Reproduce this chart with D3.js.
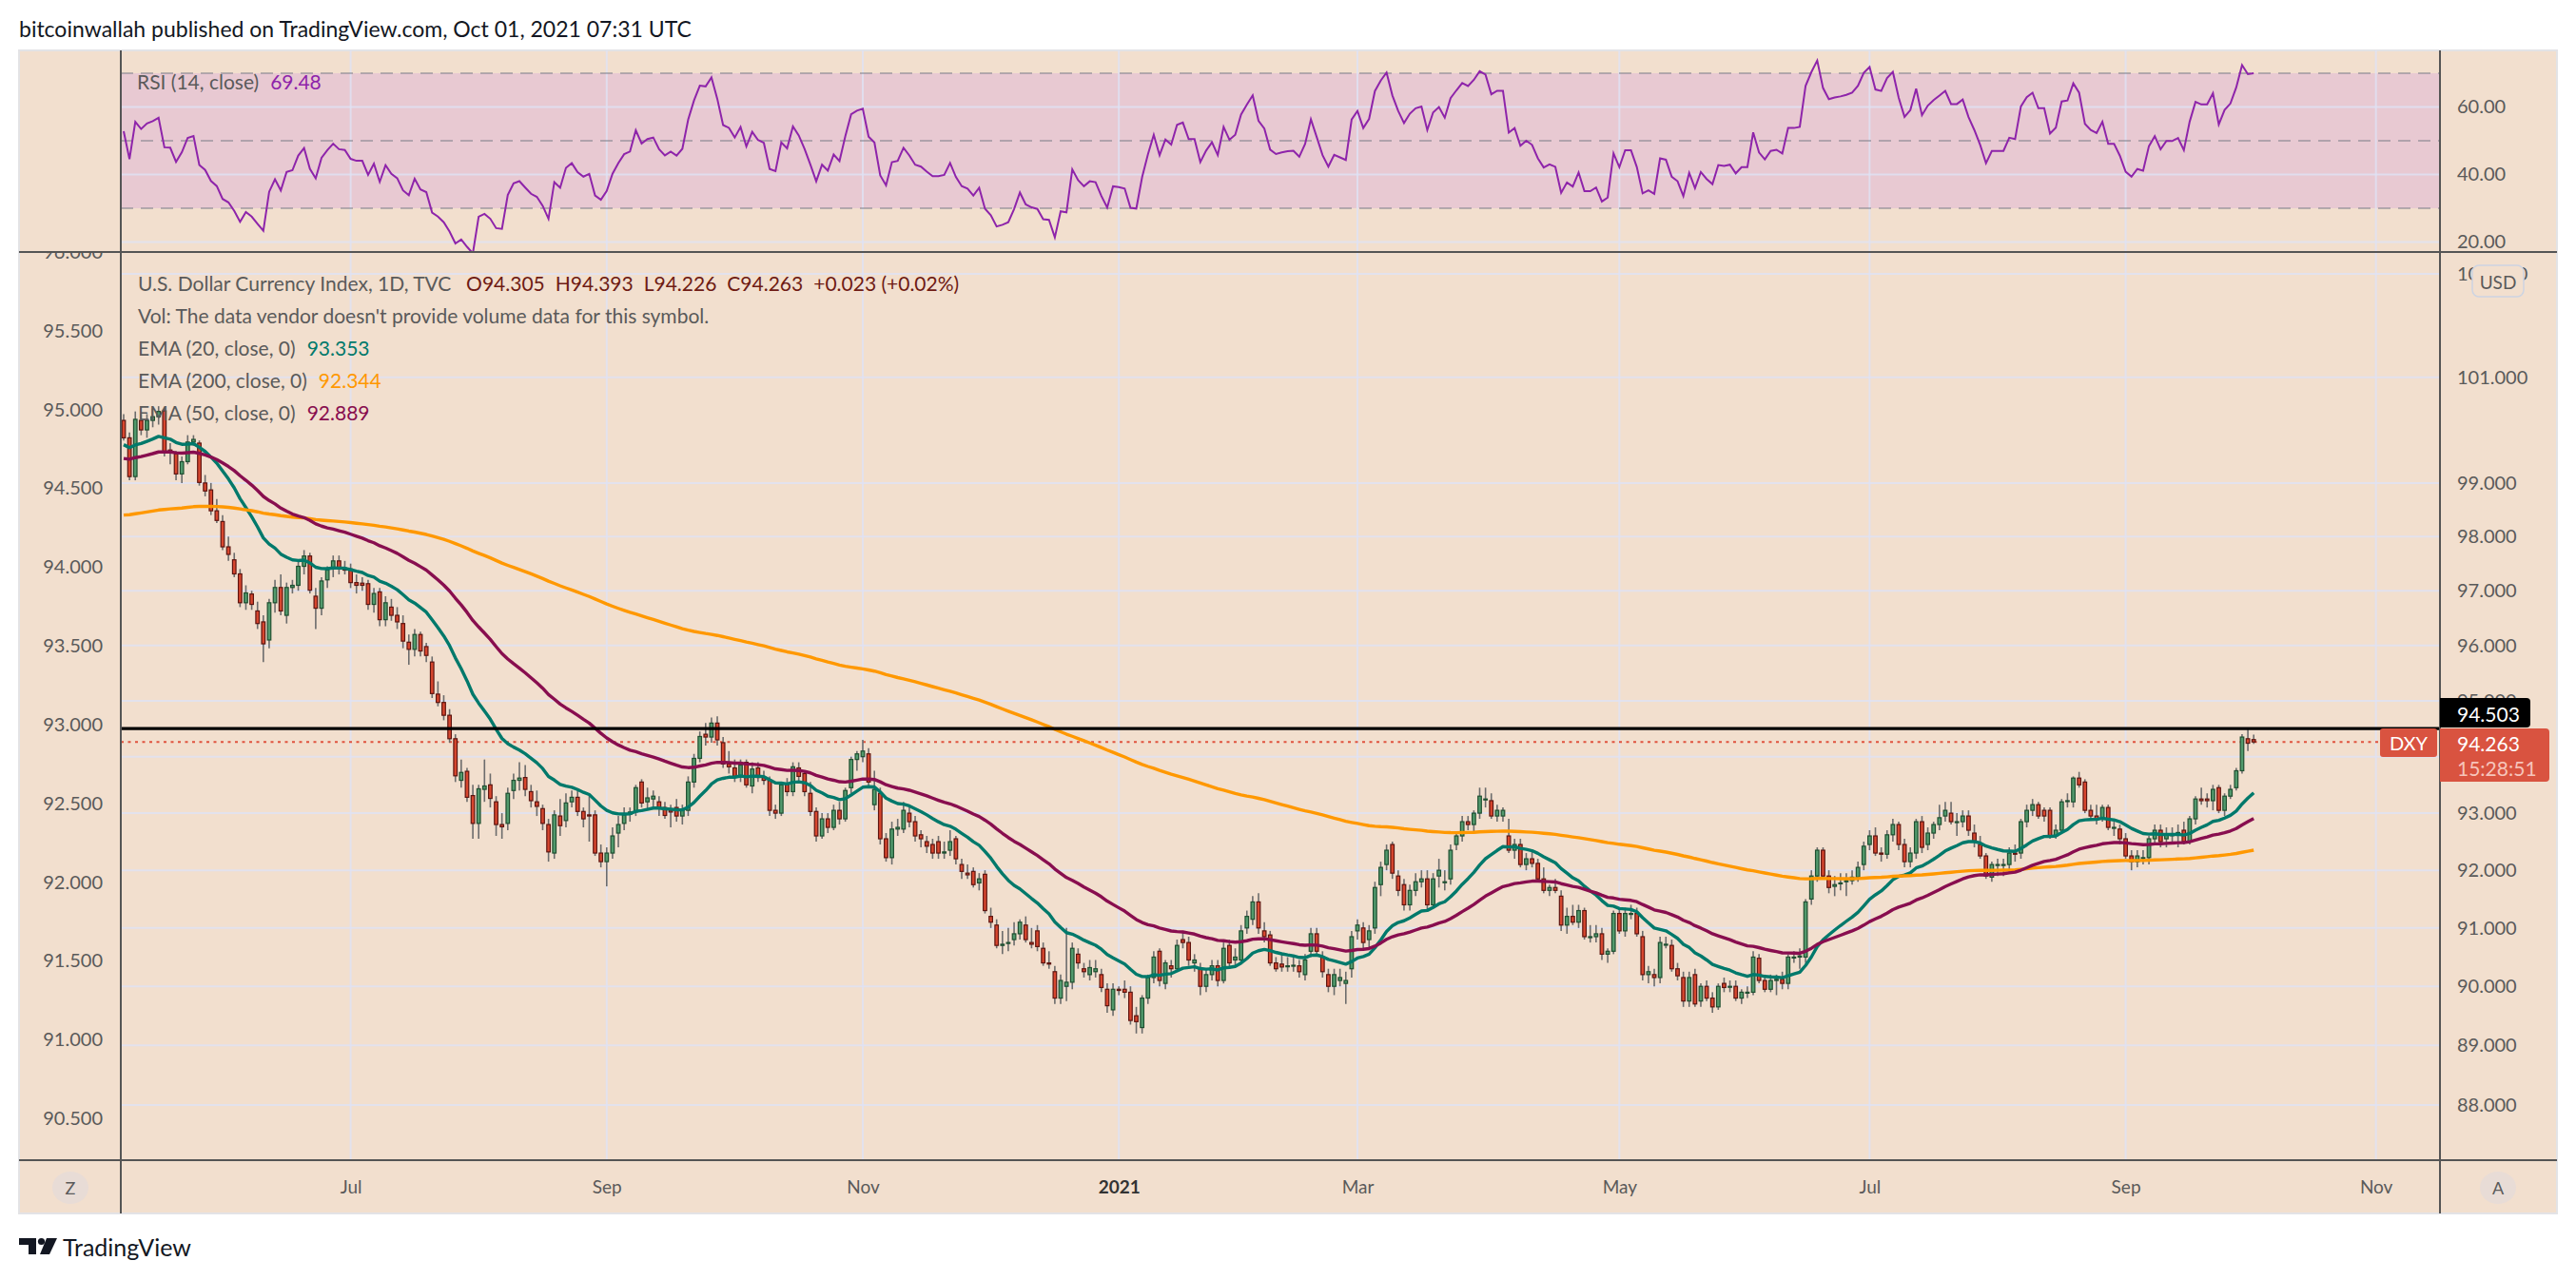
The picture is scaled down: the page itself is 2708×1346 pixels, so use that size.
<!DOCTYPE html>
<html>
<head>
<meta charset="utf-8">
<script src="https://cdn.jsdelivr.net/npm/d3@7"></script>
<style>
body{margin:0;background:#fff;}
svg{display:block;font-family:Lato,"Open Sans",sans-serif;}
</style>
</head>
<body>
<div id="canvas"></div>
<script>
// daily DXY bars, one per weekday from 2020-05-07 to 2021-10-01
var startDate = '2020-05-07';

var opens = [
100.18,99.85,99.12,100.18,100.00,100.18,100.25,100.36,99.62,99.55,
99.17,99.40,99.77,99.75,99.00,98.87,98.48,98.28,97.81,97.57,
97.31,96.78,96.94,96.63,96.43,96.10,96.78,97.06,96.55,97.06,
97.10,97.45,97.64,96.90,96.68,97.20,97.40,97.55,97.42,97.40,
97.15,97.14,97.13,96.75,96.98,96.47,96.70,96.55,96.40,96.06,
95.93,96.20,95.98,95.70,95.12,94.97,94.74,94.32,93.58,93.74,
93.31,92.82,93.42,93.50,93.20,92.80,92.82,93.40,93.58,93.63,
93.38,93.20,93.08,92.80,92.30,92.95,92.87,93.20,93.28,93.03,
92.97,92.97,92.30,92.15,92.30,92.65,92.82,92.98,93.02,93.55,
93.20,93.25,93.20,93.10,93.05,93.10,92.95,93.05,93.55,93.97,
94.40,94.35,94.60,94.25,93.87,93.80,93.65,93.90,93.48,93.80,
93.63,93.58,93.05,93.00,93.50,93.38,93.80,93.70,93.35,93.03,
92.60,92.90,92.75,93.05,92.90,93.45,93.95,94.00,94.05,93.15,
93.35,92.55,92.22,92.72,92.72,93.00,92.85,92.62,92.50,92.45,
92.50,92.30,92.35,92.55,92.10,91.95,91.98,91.78,91.93,91.20,
91.05,90.70,90.75,90.80,90.90,91.05,90.75,90.95,90.65,90.40,
90.25,89.80,90.00,90.07,90.55,90.30,90.20,90.25,90.20,89.95,
89.60,89.95,89.95,89.90,89.50,89.30,89.80,90.15,90.60,90.05,
90.35,90.30,90.80,90.75,90.40,90.30,90.00,90.20,90.35,90.10,
90.70,90.45,90.45,91.00,91.15,91.45,90.95,90.88,90.40,90.38,
90.35,90.36,90.35,90.20,90.60,90.90,90.50,90.20,90.00,90.10,
90.05,90.30,90.95,91.00,90.80,91.00,91.75,92.10,92.45,91.90,
91.75,91.40,91.65,91.80,91.85,91.40,91.90,91.80,91.85,92.45,
92.60,92.85,92.80,93.00,93.25,93.22,92.95,92.95,92.60,92.35,
92.45,92.10,92.20,92.12,91.85,91.65,91.70,91.55,91.05,91.20,
91.10,91.30,90.85,90.85,90.90,90.55,90.60,91.25,90.95,91.25,
91.25,90.85,90.20,90.20,90.15,90.72,90.70,90.30,90.15,89.75,
90.20,89.75,90.00,89.80,89.65,90.05,90.00,90.00,89.80,89.90,
89.90,90.48,90.10,89.95,90.10,90.12,90.05,90.50,90.50,90.50,
91.50,91.90,92.35,91.90,91.72,91.78,91.80,91.82,91.88,92.10,
92.45,92.60,92.30,92.28,92.62,92.80,92.45,92.15,92.30,92.85,
92.45,92.65,92.80,92.95,93.00,92.85,92.85,92.95,92.65,92.45,
92.25,91.88,92.10,92.10,92.10,92.30,92.30,92.85,93.05,93.15,
93.05,93.05,92.60,92.70,93.22,93.20,93.62,93.55,93.05,92.95,
92.90,93.10,92.75,92.72,92.55,92.25,92.15,92.22,92.22,92.55,
92.70,92.55,92.62,92.62,92.70,92.50,92.90,93.25,93.25,93.22,
93.45,93.05,93.30,93.45,93.75,94.32,94.305
];

var highs = [
100.30,99.95,100.35,100.30,100.30,100.40,100.45,100.42,99.75,99.60,
99.50,99.90,99.90,99.80,99.15,99.00,98.70,98.40,98.00,97.70,
97.40,97.10,97.00,96.80,96.55,96.85,97.20,97.30,97.15,97.20,
97.55,97.75,97.70,97.05,97.25,97.45,97.65,97.65,97.55,97.50,
97.30,97.25,97.20,97.05,97.05,96.90,96.85,96.70,96.55,96.20,
96.30,96.25,96.05,95.80,95.35,95.10,94.85,94.40,93.95,93.80,
93.50,93.50,93.95,93.70,93.30,93.00,93.45,93.70,93.90,93.85,
93.50,93.40,93.15,92.90,93.05,93.25,93.35,93.40,93.40,93.10,
93.30,93.05,92.45,92.40,92.75,92.95,93.10,93.10,93.50,93.60,
93.45,93.40,93.30,93.20,93.15,93.25,93.15,93.65,94.05,94.45,
94.60,94.70,94.72,94.35,94.10,93.95,93.95,93.95,93.90,93.90,
93.75,93.65,93.15,93.55,93.62,93.90,93.90,93.75,93.55,93.10,
93.00,93.00,93.15,93.20,93.45,94.00,94.10,94.30,94.15,93.75,
93.45,92.65,92.85,92.90,93.20,93.10,92.95,92.70,92.60,92.55,
92.60,92.50,92.70,92.60,92.20,92.10,92.05,91.95,92.00,91.35,
91.15,90.95,91.00,91.10,91.15,91.20,91.00,91.05,90.75,90.60,
90.35,90.20,91.00,90.75,90.65,90.40,90.45,90.45,90.30,90.05,
90.05,90.00,90.10,90.00,89.65,89.85,90.20,90.60,90.65,90.45,
90.45,90.80,90.95,90.85,90.55,90.40,90.30,90.45,90.45,90.75,
90.80,90.65,91.05,91.30,91.55,91.60,91.10,90.95,90.50,90.55,
90.50,90.50,90.45,90.55,91.00,91.00,90.60,90.30,90.30,90.30,
90.25,90.95,91.15,91.10,91.05,91.80,92.15,92.45,92.50,92.00,
91.85,91.75,91.95,92.00,92.00,91.95,92.20,92.00,92.45,92.65,
92.95,92.95,93.05,93.45,93.45,93.35,93.15,93.10,92.90,92.55,
92.55,92.30,92.35,92.20,92.05,91.75,91.85,91.65,91.35,91.40,
91.40,91.35,91.05,91.05,91.00,90.65,91.30,91.35,91.35,91.40,
91.35,90.95,90.35,90.30,90.85,90.85,90.80,90.40,90.25,90.25,
90.30,90.05,90.10,89.90,90.05,90.15,90.10,90.10,89.95,90.00,
90.60,90.55,90.20,90.20,90.20,90.25,90.55,90.60,90.65,91.50,
92.00,92.40,92.40,92.00,91.90,91.95,91.95,92.00,92.15,92.50,
92.70,92.75,92.40,92.70,92.90,92.85,92.55,92.40,92.90,92.95,
92.75,92.85,93.15,93.20,93.20,93.00,93.05,93.05,92.80,92.60,
92.30,92.15,92.20,92.20,92.40,92.45,92.90,93.15,93.25,93.20,
93.10,93.10,92.80,93.25,93.35,93.65,93.73,93.60,93.15,93.15,
93.15,93.15,92.85,92.80,92.65,92.35,92.35,92.35,92.60,92.80,
92.80,92.75,92.75,92.80,92.85,92.95,93.30,93.45,93.35,93.50,
93.50,93.35,93.50,93.80,94.40,94.50,94.393
];

var lows = [
99.80,99.05,99.05,99.90,99.85,100.05,100.10,99.50,99.35,99.05,
99.00,99.35,99.70,98.95,98.75,98.40,98.25,97.75,97.55,97.25,
96.70,96.65,96.65,96.30,95.70,95.95,96.60,96.55,96.40,96.95,
97.00,97.30,96.95,96.30,96.55,97.05,97.25,97.30,97.30,97.05,
96.95,97.00,96.65,96.60,96.35,96.35,96.45,96.30,95.95,95.65,
95.80,95.80,95.70,95.05,94.90,94.65,94.25,93.55,93.45,93.20,
92.55,92.55,93.20,93.10,92.60,92.55,92.70,93.25,93.40,93.30,
93.10,92.95,92.70,92.15,92.20,92.60,92.75,93.10,92.95,92.75,
92.50,92.25,92.05,91.72,92.20,92.40,92.70,92.85,92.95,93.10,
93.05,93.10,92.95,92.90,92.75,92.85,92.80,92.95,93.45,93.90,
94.20,94.25,94.20,93.80,93.70,93.55,93.55,93.45,93.35,93.55,
93.50,92.95,92.90,92.95,93.30,93.30,93.55,93.30,92.95,92.50,
92.55,92.65,92.70,92.80,92.85,93.35,93.75,93.90,93.45,93.05,
92.45,92.15,92.10,92.60,92.65,92.75,92.50,92.40,92.30,92.20,
92.20,92.20,92.25,92.10,91.85,91.85,91.70,91.65,91.25,91.00,
90.65,90.55,90.60,90.70,90.80,90.75,90.65,90.60,90.35,90.30,
89.70,89.70,89.75,89.95,90.30,90.15,90.10,90.15,89.90,89.55,
89.50,89.85,89.80,89.35,89.20,89.20,89.70,90.05,90.00,89.95,
90.15,90.25,90.65,90.35,90.25,89.85,89.90,90.10,90.00,90.05,
90.30,90.35,90.40,90.90,91.05,90.90,90.75,90.35,90.25,90.25,
90.25,90.25,90.15,90.10,90.50,90.55,90.15,89.90,89.85,90.00,
89.70,90.15,90.80,90.65,90.65,90.90,91.55,92.00,91.85,91.55,
91.30,91.30,91.55,91.70,91.30,91.35,91.70,91.65,91.75,92.35,
92.50,92.70,92.65,92.90,93.10,92.90,92.85,92.85,92.30,92.20,
92.05,92.00,92.05,91.80,91.60,91.55,91.60,90.95,90.90,91.05,
91.00,90.80,90.75,90.75,90.45,90.40,90.55,90.90,90.85,91.15,
90.85,90.10,90.05,90.00,90.05,90.65,90.25,90.10,89.65,89.65,
89.65,89.65,89.75,89.55,89.60,89.90,89.90,89.75,89.70,89.80,
89.85,90.05,89.90,89.90,89.85,89.95,89.95,90.40,90.30,90.40,
91.40,91.80,91.85,91.60,91.55,91.65,91.55,91.75,91.80,92.00,
92.35,92.25,92.15,92.20,92.50,92.35,92.05,92.05,92.20,92.30,
92.35,92.55,92.70,92.85,92.80,92.60,92.75,92.60,92.40,92.20,
91.85,91.80,91.90,91.90,91.95,92.15,92.20,92.75,92.95,92.90,
92.85,92.55,92.55,92.65,93.10,93.10,93.45,93.00,92.90,92.80,
92.85,92.70,92.60,92.45,92.20,92.00,92.05,92.10,92.10,92.45,
92.40,92.40,92.50,92.40,92.45,92.45,92.80,93.15,93.10,93.05,
93.00,92.95,93.25,93.40,93.70,94.10,94.226
];

var closes = [
99.85,99.12,100.20,100.00,100.18,100.25,100.35,99.59,99.58,99.17,
99.40,99.77,99.82,99.01,98.85,98.48,98.30,97.81,97.67,97.31,
96.78,96.96,96.75,96.40,96.03,96.78,97.06,96.63,97.06,97.10,
97.45,97.64,97.01,96.68,97.18,97.38,97.55,97.40,97.38,97.15,
97.10,97.10,96.75,96.95,96.47,96.78,96.55,96.43,96.08,95.93,
96.20,95.90,95.82,95.13,94.97,94.74,94.32,93.66,93.72,93.28,
92.82,93.43,93.48,93.26,92.80,92.76,93.35,93.58,93.62,93.42,
93.22,93.12,92.82,92.32,92.97,92.78,93.18,93.28,93.03,92.90,
92.95,92.30,92.15,92.30,92.60,92.80,92.97,93.02,93.45,93.18,
93.27,93.30,93.08,92.96,93.02,92.95,93.05,93.55,93.97,94.36,
94.35,94.60,94.30,93.87,93.82,93.65,93.85,93.50,93.78,93.63,
93.58,93.05,93.00,93.50,93.38,93.82,93.65,93.38,93.03,92.60,
92.90,92.75,93.05,92.90,93.40,93.95,94.05,94.10,93.55,93.42,
92.55,92.22,92.72,92.75,93.05,92.85,92.60,92.55,92.42,92.30,
92.30,92.32,92.50,92.20,91.98,91.92,91.75,91.85,91.30,91.10,
90.70,90.72,90.75,90.90,91.10,90.80,90.72,90.68,90.40,90.38,
89.80,90.10,90.07,90.65,90.40,90.25,90.32,90.30,89.98,89.67,
89.95,89.93,89.90,89.42,89.40,89.80,90.15,90.50,90.10,90.40,
90.30,90.70,90.75,90.45,90.45,90.00,90.20,90.35,90.10,90.65,
90.40,90.50,90.95,91.20,91.45,91.00,90.85,90.40,90.30,90.33,
90.35,90.36,90.25,90.45,90.90,90.60,90.25,90.00,90.20,90.15,
90.10,90.85,91.05,90.75,90.95,91.70,92.05,92.35,91.95,91.65,
91.40,91.65,91.80,91.85,91.40,91.85,92.00,91.80,92.35,92.60,
92.85,92.80,93.00,93.30,93.25,92.95,93.05,93.05,92.35,92.45,
92.10,92.20,92.12,91.85,91.65,91.70,91.65,91.05,91.20,91.10,
91.30,90.85,90.85,90.90,90.55,90.60,91.25,90.95,91.25,91.25,
90.90,90.20,90.25,90.15,90.75,90.72,90.30,90.18,89.75,90.15,
89.70,90.00,89.80,89.65,90.00,89.98,90.00,89.80,89.90,89.90,
90.50,90.10,89.95,90.10,90.12,90.05,90.50,90.50,90.52,91.45,
91.90,92.35,91.90,91.70,91.75,91.78,91.82,91.88,92.05,92.42,
92.60,92.30,92.28,92.62,92.80,92.45,92.15,92.30,92.85,92.40,
92.65,92.80,92.92,93.05,92.85,92.85,92.95,92.70,92.50,92.25,
91.90,92.10,92.10,92.10,92.30,92.28,92.85,93.05,93.15,92.95,
92.95,92.60,92.70,93.20,93.22,93.62,93.50,93.05,92.95,92.90,
93.10,92.75,92.75,92.55,92.25,92.15,92.25,92.22,92.55,92.70,
92.50,92.62,92.62,92.66,92.50,92.90,93.25,93.22,93.22,93.42,
93.05,93.30,93.42,93.75,94.35,94.24,94.263
];

// indicator settings and their values as printed in the legend
var emaNames = ['EMA (20, close, 0)', 'EMA (200, close, 0)', 'EMA (50, close, 0)'];
var emaPeriods = [20, 200, 50];
var emaSeeds = [99.72, 98.40, 99.46];          // level of each EMA at the first bar
var emaLegendValues = ['93.353', '92.344', '92.889'];
var emaColors = ['#00796b', '#ff9800', '#880e4f'];
var rsiSeedGain = 0.16, rsiSeedLoss = 0.143;
var rsiLegendValue = '69.48';
var levelLine = 94.503;                        // drawn horizontal line

// axes
var monthTicks = ['2020-07','2020-09','2020-11','2021-01','2021-03','2021-05','2021-07','2021-09','2021-11'];
var monthLabels = ['Jul','Sep','Nov','2021','Mar','May','Jul','Sep','Nov'];
var rightTicks = [103,101,99,98,97,96,95,94,93,92,91,90,89,88];
var hiddenRightLabels = [94];                  // covered by the last price label
var leftTicks = [96,95.5,95,94.5,94,93.5,93,92.5,92,91.5,91,90.5];
var rsiTicks = [60,40,20];
var rsiLevels = [70,50,30];

var W = 2708, H = 1346;
var fl = 20, ft = 53, fr = 2688, fb = 1276;
var pl = 127, pr = 2565, rsiBottom = 265, mainBottom = 1220;
var bg = '#f2dfce', axisGray = '#555', txtGray = '#5a5a5a';

// weekday calendar
var parse = d3.timeParse('%Y-%m-%d'), fmtYM = d3.timeFormat('%Y-%m');
var days = [];
for (var d = parse(startDate); days.length < 420; d = d3.timeDay.offset(d, 1)) {
  if (d.getDay() !== 0 && d.getDay() !== 6) days.push(d);
}
var monthIdx = monthTicks.map(function(m){
  return days.findIndex(function(dd){ return fmtYM(dd) === m; });
});

var bars = closes.map(function(c, i){
  return {i:i, o:opens[i], h:highs[i], l:lows[i], c:c};
});
var last = bars[bars.length - 1], prev = bars[bars.length - 2];

// scales
var x = d3.scaleLinear().domain([0, closes.length - 1]).range([130, 130 + 6.118 * (closes.length - 1)]);
var y = d3.scaleLog().domain([88, 101]).range([1162, 396.8]);
var yLeft = d3.scaleLinear().domain([90.5, 96]).range([1176.3, 264.9]);
var yRsi = d3.scaleLinear().domain([30, 70]).range([219, 77]);

// indicators
function ema(period, seed){
  var a = 2 / (period + 1), v = seed;
  return closes.map(function(c, i){ if (i > 0) v = v + a * (c - v); return v; });
}
var rsi = [], ag = rsiSeedGain, al = rsiSeedLoss;
closes.forEach(function(c, i){
  if (i > 0) {
    var ch = c - closes[i - 1];
    ag = (ag * 13 + Math.max(ch, 0)) / 14;
    al = (al * 13 + Math.max(-ch, 0)) / 14;
  }
  rsi.push(100 - 100 / (1 + ag / al));
});

var svg = d3.select('#canvas').append('svg').attr('width', W).attr('height', H);
var defs = svg.append('defs');
defs.append('clipPath').attr('id', 'mainClip').append('rect')
  .attr('x', pl).attr('y', rsiBottom).attr('width', pr - pl).attr('height', mainBottom - rsiBottom);
defs.append('clipPath').attr('id', 'rsiClip').append('rect')
  .attr('x', pl).attr('y', ft).attr('width', pr - pl).attr('height', rsiBottom - ft);
defs.append('clipPath').attr('id', 'leftClip').append('rect')
  .attr('x', fl).attr('y', rsiBottom + 1).attr('width', pl - fl).attr('height', mainBottom - rsiBottom);

// header
svg.append('text').attr('x', 20).attr('y', 30).attr('dominant-baseline', 'central')
  .attr('font-size', 23).attr('fill', '#131722')
  .text('bitcoinwallah published on TradingView.com, Oct 01, 2021 07:31 UTC');

// chart background
svg.append('rect').attr('x', fl).attr('y', ft).attr('width', fr - fl).attr('height', fb - ft)
  .attr('fill', bg).attr('stroke', '#e3e3e6').attr('stroke-width', 2);

// RSI band
svg.append('rect').attr('x', pl).attr('y', yRsi(70)).attr('width', pr - pl)
  .attr('height', yRsi(30) - yRsi(70)).attr('fill', '#e8c9d2');

// grid
var grid = svg.append('g').attr('stroke', 'rgba(222,226,245,0.8)').attr('stroke-width', 2);
grid.selectAll('line.v').data(monthIdx).enter().append('line')
  .attr('x1', function(i){ return x(i); }).attr('x2', function(i){ return x(i); })
  .attr('y1', ft).attr('y2', mainBottom);
grid.selectAll('line.h').data(rightTicks).enter().append('line')
  .attr('x1', pl).attr('x2', pr)
  .attr('y1', function(t){ return y(t); }).attr('y2', function(t){ return y(t); });
grid.selectAll('line.r').data(rsiTicks).enter().append('line')
  .attr('x1', pl).attr('x2', pr)
  .attr('y1', function(t){ return yRsi(t); }).attr('y2', function(t){ return yRsi(t); });
svg.append('g').selectAll('line').data(rsiLevels).enter().append('line')
  .attr('x1', pl).attr('x2', pr)
  .attr('y1', function(t){ return yRsi(t); }).attr('y2', function(t){ return yRsi(t); })
  .attr('stroke', 'rgba(120,123,134,0.5)').attr('stroke-width', 2).attr('stroke-dasharray', '13,8');

// RSI line
svg.append('path').datum(rsi).attr('clip-path', 'url(#rsiClip)')
  .attr('fill', 'none').attr('stroke', '#8e24aa').attr('stroke-width', 2)
  .attr('d', d3.line().x(function(v, i){ return x(i); }).y(function(v){ return yRsi(v); }));

// main pane
var main = svg.append('g').attr('clip-path', 'url(#mainClip)');
main.append('line').attr('x1', pl).attr('x2', 2502).attr('y1', y(last.c)).attr('y2', y(last.c))
  .attr('stroke', '#e0533f').attr('stroke-width', 2).attr('stroke-dasharray', '3,4.5');

main.selectAll('line.wick').data(bars).enter().append('line')
  .attr('x1', function(b){ return x(b.i); }).attr('x2', function(b){ return x(b.i); })
  .attr('y1', function(b){ return y(b.h); }).attr('y2', function(b){ return y(b.l); })
  .attr('stroke', '#6c6c6c').attr('stroke-width', 1.6);
var bw = 3.6;
main.selectAll('rect.body').data(bars).enter().append('rect')
  .attr('x', function(b){ return x(b.i) - bw / 2; })
  .attr('y', function(b){ return y(Math.max(b.o, b.c)); })
  .attr('width', bw)
  .attr('height', function(b){ return Math.max(1, Math.abs(y(b.o) - y(b.c))); })
  .attr('fill', function(b){ return b.c >= b.o ? '#529a6d' : '#d8472f'; })
  .attr('stroke', function(b){ return b.c >= b.o ? '#1f4f30' : '#5e1510'; })
  .attr('stroke-width', 1.2);

emaPeriods.forEach(function(p, k){
  main.append('path').datum(ema(p, emaSeeds[k]))
    .attr('fill', 'none').attr('stroke', emaColors[k]).attr('stroke-width', 3.4)
    .attr('stroke-linejoin', 'round')
    .attr('d', d3.line().x(function(v, i){ return x(i); }).y(function(v){ return y(v); }));
});

main.append('line').attr('x1', pl).attr('x2', pr).attr('y1', y(levelLine)).attr('y2', y(levelLine))
  .attr('stroke', '#000').attr('stroke-width', 3.3);

// separators
var sep = svg.append('g').attr('stroke', axisGray).attr('stroke-width', 2);
sep.append('line').attr('x1', fl).attr('x2', fr).attr('y1', rsiBottom).attr('y2', rsiBottom);
sep.append('line').attr('x1', fl).attr('x2', fr).attr('y1', mainBottom).attr('y2', mainBottom);
sep.append('line').attr('x1', pl).attr('x2', pl).attr('y1', ft).attr('y2', fb);
sep.append('line').attr('x1', pr).attr('x2', pr).attr('y1', ft).attr('y2', fb);

// axes
function styleAxis(g){
  g.select('.domain').remove();
  g.selectAll('text').attr('font-family', 'Lato, sans-serif').attr('font-size', 20).attr('fill', txtGray);
}
svg.append('g').attr('clip-path', 'url(#leftClip)').append('g').attr('transform', 'translate(108,0)')
  .call(d3.axisLeft(yLeft).tickValues(leftTicks).tickFormat(d3.format('.3f')).tickSize(0).tickPadding(0))
  .call(styleAxis);
svg.append('g').attr('transform', 'translate(' + pr + ',0)')
  .call(d3.axisRight(y).tickValues(rightTicks)
    .tickFormat(function(v){ return hiddenRightLabels.indexOf(v) >= 0 ? '' : d3.format('.3f')(v); })
    .tickSize(0).tickPadding(18))
  .call(styleAxis);
svg.append('g').attr('transform', 'translate(' + pr + ',0)')
  .call(d3.axisRight(yRsi).tickValues(rsiTicks).tickFormat(d3.format('.2f')).tickSize(0).tickPadding(18))
  .call(styleAxis);
var xAxis = svg.append('g').attr('transform', 'translate(0,' + mainBottom + ')')
  .call(d3.axisBottom(x).tickValues(monthIdx)
    .tickFormat(function(v, k){ return monthLabels[k]; }).tickSize(0))
  .call(styleAxis);
xAxis.selectAll('text').attr('y', 28).attr('dy', '0.35em').attr('font-size', 19)
  .attr('font-weight', function(v, k){ return monthLabels[k] === '2021' ? 'bold' : 'normal'; })
  .attr('fill', function(v, k){ return monthLabels[k] === '2021' ? '#333' : txtGray; });

// price labels
svg.append('path').attr('fill', '#000')
  .attr('d', 'M' + pr + ',734 H2656 Q2660,734 2660,738 V761 Q2660,765 2656,765 H' + pr + ' Z');
svg.append('text').attr('x', 2583).attr('y', 750).attr('dominant-baseline', 'central')
  .attr('font-size', 21).attr('fill', '#fff').text(d3.format('.3f')(levelLine));
svg.append('path').attr('fill', '#d95340')
  .attr('d', 'M' + pr + ',766 H2676 Q2680,766 2680,770 V818 Q2680,822 2676,822 H' + pr + ' Z');
svg.append('text').attr('x', 2583).attr('y', 781).attr('dominant-baseline', 'central')
  .attr('font-size', 21).attr('fill', '#fff').text(d3.format('.3f')(last.c));
svg.append('text').attr('x', 2583).attr('y', 807).attr('dominant-baseline', 'central')
  .attr('font-size', 21).attr('fill', '#f6c4bb').text('15:28:51');
svg.append('rect').attr('x', 2502).attr('y', 766).attr('width', 60).attr('height', 30).attr('rx', 3)
  .attr('fill', '#d95340');
svg.append('text').attr('x', 2532).attr('y', 781).attr('text-anchor', 'middle').attr('dominant-baseline', 'central')
  .attr('font-size', 20).attr('fill', '#fff').text('DXY');

// badges
svg.append('rect').attr('x', 2599).attr('y', 279).attr('width', 54).attr('height', 33).attr('rx', 7)
  .attr('fill', bg).attr('stroke', '#cdd4e2').attr('stroke-width', 1.5);
svg.append('text').attr('x', 2626).attr('y', 296).attr('text-anchor', 'middle').attr('dominant-baseline', 'central')
  .attr('font-size', 19).attr('fill', txtGray).text('USD');
[[74, 'Z'], [2626, 'A']].forEach(function(b){
  svg.append('ellipse').attr('cx', b[0]).attr('cy', 1249).attr('rx', 19).attr('ry', 17).attr('fill', '#e8dcd6');
  svg.append('text').attr('x', b[0]).attr('y', 1249).attr('text-anchor', 'middle').attr('dominant-baseline', 'central')
    .attr('font-size', 18).attr('fill', txtGray).text(b[1]);
});

// legends
var leg = svg.append('g').attr('font-size', 21).attr('fill', txtGray);
var rsiLeg = leg.append('text').attr('x', 144).attr('y', 85).attr('dominant-baseline', 'central');
rsiLeg.append('tspan').text('RSI (14, close)');
rsiLeg.append('tspan').attr('dx', 12).attr('fill', '#8e24aa').text(rsiLegendValue);

var f3 = d3.format('.3f');
var chg = last.c - prev.c;
var ohlc = ['O' + f3(last.o), 'H' + f3(last.h), 'L' + f3(last.l), 'C' + f3(last.c),
  d3.format('+.3f')(chg) + ' (' + d3.format('+.2f')(chg / prev.c * 100) + '%)'];
var l1 = leg.append('text').attr('x', 145).attr('y', 297).attr('dominant-baseline', 'central');
l1.append('tspan').text('U.S. Dollar Currency Index, 1D, TVC');
ohlc.forEach(function(s, k){
  l1.append('tspan').attr('dx', k ? 11 : 16).attr('fill', '#6e1b14').text(s);
});
leg.append('text').attr('x', 145).attr('y', 331).attr('dominant-baseline', 'central')
  .text('Vol: The data vendor doesn\'t provide volume data for this symbol.');
emaNames.forEach(function(n, k){
  var t = leg.append('text').attr('x', 145).attr('y', 365 + k * 34).attr('dominant-baseline', 'central');
  t.append('tspan').text(n);
  t.append('tspan').attr('dx', 12).attr('fill', emaColors[k]).text(emaLegendValues[k]);
});

// footer logo
var logo = svg.append('g').attr('fill', '#131722');
logo.append('path').attr('d', 'M20,1302 H38 V1319 H30 V1309 H20 Z');
logo.append('circle').attr('cx', 43.5).attr('cy', 1305.5).attr('r', 3.6);
logo.append('path').attr('d', 'M49,1302 H60 L52,1319 H42 Z');
svg.append('text').attr('x', 66).attr('y', 1311).attr('dominant-baseline', 'central')
  .attr('font-size', 25).attr('fill', '#131722').text('TradingView');
</script>
</body>
</html>
